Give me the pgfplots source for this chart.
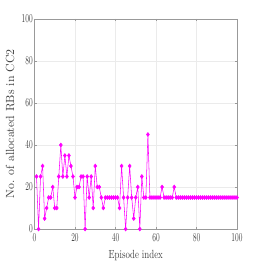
\documentclass[border=0pt]{standalone}
\usepackage{pgfplots}
\pgfplotsset{compat=1.18}
\definecolor{axgray}{gray}{0.6}
\definecolor{gridgray}{gray}{0.92}
\definecolor{txtgray}{gray}{0.25}
\definecolor{mag}{RGB}{255,0,255}
\begin{document}
\begin{tikzpicture}
\path[use as bounding box] (-31.6pt,-30.2pt) rectangle (208.4pt,209.8pt);
\begin{axis}[
  at={(0pt,0pt)}, anchor=south west,
  scale only axis, width=185.5pt, height=192.4pt,
  xmin=0, xmax=100, ymin=0, ymax=100,
  xtick={0,20,...,100}, ytick={0,20,...,100},
  grid=major, major grid style={gridgray, line width=0.4pt},
  axis line style={axgray, line width=0.5pt},
  tick style={axgray, line width=0.5pt},
  tick align=inside, tick pos=both, major tick length=2pt,
  ticklabel style={font=\fontsize{10.5}{12}\selectfont, text=txtgray, xscale=0.62},
  xticklabel style={yshift=-1pt},
  yticklabel style={xshift=1pt},
  xlabel={Episode index},
  ylabel={No. of allocated RBs in CC2},
  xlabel style={at={(axis description cs:0.5,-0.138)}, anchor=base, font=\fontsize{10.8}{13}\selectfont, text=txtgray, xscale=0.75},
  ylabel style={at={(axis description cs:-0.121,0.5)}, anchor=center, font=\fontsize{10.8}{13}\selectfont, text=txtgray},
]
\addplot[color=mag, line width=0.5pt, mark=diamond*, mark size=1.8pt, mark options={solid, fill=mag, draw=mag}] coordinates {
(1,25)(2,0)(3,25)(4,30)(5,5)(6,10)(7,15)(8,15)(9,20)(10,10)
(11,10)(12,25)(13,40)(14,25)(15,35)(16,25)(17,35)(18,30)(19,25)(20,15)
(21,20)(22,20)(23,25)(24,25)(25,0)(26,25)(27,15)(28,25)(29,10)(30,30)
(31,20)(32,20)(33,15)(34,10)(35,15)(36,15)(37,15)(38,15)(39,15)(40,15)
(41,15)(42,10)(43,30)(44,15)(45,0)(46,15)(47,30)(48,15)(49,5)(50,15)
(51,20)(52,0)(53,25)(54,15)(55,15)(56,45)(57,15)(58,15)(59,15)(60,15)
(61,15)(62,15)(63,20)(64,15)(65,15)(66,15)(67,15)(68,15)(69,20)(70,15)
(71,15)(72,15)(73,15)(74,15)(75,15)(76,15)(77,15)(78,15)(79,15)(80,15)
(81,15)(82,15)(83,15)(84,15)(85,15)(86,15)(87,15)(88,15)(89,15)(90,15)
(91,15)(92,15)(93,15)(94,15)(95,15)(96,15)(97,15)(98,15)(99,15)(100,15)
};
\end{axis}
\end{tikzpicture}
\end{document}
